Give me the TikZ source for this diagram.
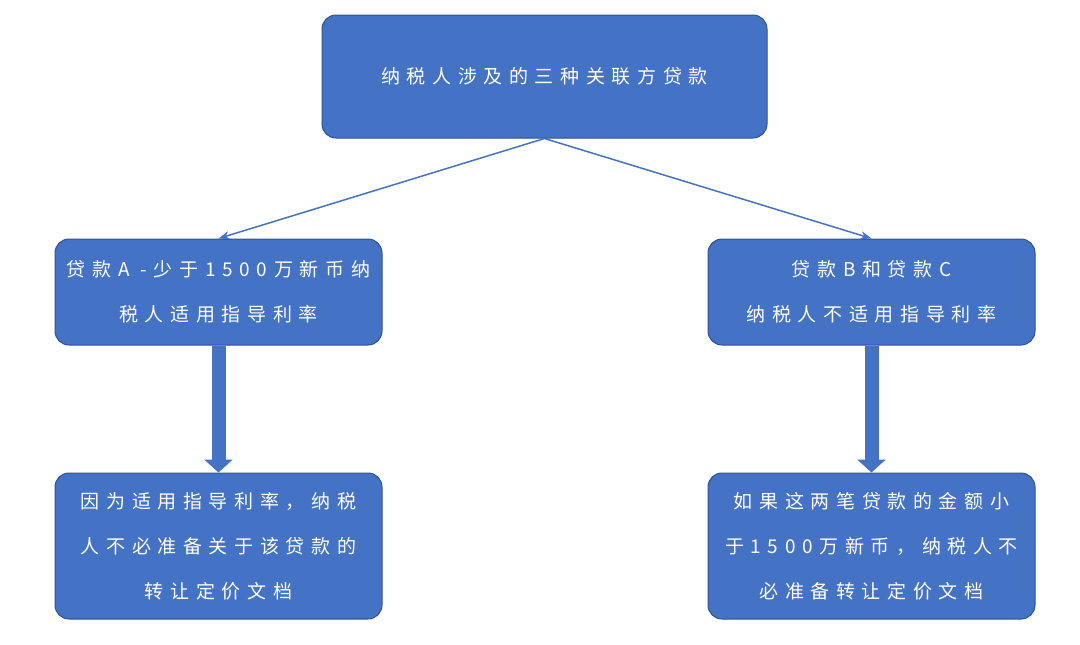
\documentclass[tikz,border=0pt]{standalone}
\usepackage{fontspec}
\newfontfamily\cjk[LetterSpace=35]{Noto Sans CJK SC}
\usetikzlibrary{positioning,arrows.meta}
\definecolor{boxBlue}{HTML}{4472C4}
\definecolor{edgeBlue}{HTML}{2F528F}
\tikzset{
  recNode/.style={rectangle, rounded corners=14pt, draw=edgeBlue, line width=1pt,
    fill=boxBlue, text=white, align=center, font=\cjk\fontsize{19}{45}\selectfont,
    minimum width=327pt, minimum height=106pt, inner sep=0pt},
  arrowT/.style={draw=boxBlue, line width=1.5pt, -{Stealth[length=11pt,width=8pt]}},
  arrowK/.style={draw=boxBlue, line width=14pt, -{Triangle[length=13pt,width=28pt]}}
}
\begin{document}
\begin{tikzpicture}[x=1pt,y=-1pt]
    \useasboundingbox (0,0) rectangle (1080,645);
    \node (top) [recNode, minimum width=445pt, minimum height=123pt] at (544.5,76.5) {纳税人涉及的三种关联方贷款};
    \node (loanA) [recNode] at (218.5,292) {贷款A -少于1500万新币纳\\税人适用指导利率};
    \node (loanBC) [recNode] at (871.5,292) {贷款B和贷款C\\纳税人不适用指导利率};
    \node (resA) [recNode, minimum height=146pt] at (218.5,546) {因为适用指导利率，纳税\\人不必准备关于该贷款的\\转让定价文档};
    \node (resBC) [recNode, minimum height=146pt] at (871.5,546) {如果这两笔贷款的金额小\\于1500万新币，纳税人不\\必准备转让定价文档};

    \draw [arrowT] (top.south) -- (loanA.north);
    \draw [arrowT] (top.south) -- (loanBC.north);
    \draw [arrowK] (loanA.south) -- (resA.north);
    \draw [arrowK] (loanBC.south) -- (resBC.north);
\end{tikzpicture}
\end{document}
